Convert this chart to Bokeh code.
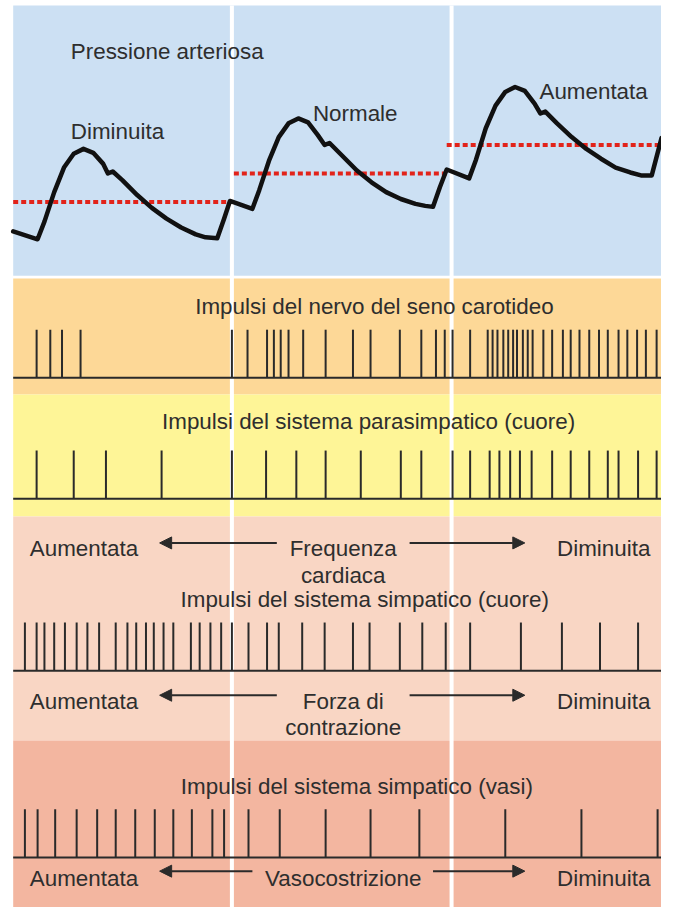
from bokeh.plotting import figure
from bokeh.models import Range1d, Arrow, NormalHead
from bokeh.core.properties import value
from bokeh.embed import file_html
from bokeh.resources import INLINE

# ---------------- data (in picture units) ----------------
# arterial pressure trace: three beats (decreased, normal, increased)
pressure_x = [13, 38, 45, 55, 65, 75, 85, 95, 105, 110, 115, 125, 140, 155, 170, 185, 200, 210, 222, 229, 235,
              258, 265, 275, 285, 295, 305, 315, 325, 332, 337, 350, 365, 380, 395, 410, 425, 435, 443, 450, 457,
              480, 487, 497, 507, 517, 527, 537, 547, 553, 558, 570, 585, 600, 615, 630, 645, 656, 667, 677]
pressure_y = [235, 243, 225, 195, 170, 156, 151, 155, 166, 176, 174, 183, 198, 211, 222, 231, 238, 241, 242, 222, 204,
              212, 193, 163, 139, 125, 120, 124, 137, 147, 145, 158, 173, 185, 195, 202, 207, 209, 210, 190, 172,
              181, 162, 130, 107, 93, 88, 92, 105, 115, 113, 125, 139, 151, 161, 170, 175, 178, 178, 140]
# mean pressure (red dashed) for each beat
mean_x0 = [13, 239, 457]
mean_x1 = [234, 459, 675]
mean_y = [205, 176, 147]

pressure_labels = ["Pressione arteriosa", "Diminuita", "Normale", "Aumentata"]

# impulse trains (spike times)
carotid_spikes = [37, 51, 63, 82, 237, 253, 273, 280, 287, 295, 310, 333, 361, 379, 409, 431, 446, 455, 463,
                  481, 499, 504, 509, 515, 520, 525, 529, 535, 540, 545, 556, 565, 576, 584, 593, 603, 613,
                  622, 633, 642, 652, 661, 672]
parasym_spikes = [37, 75, 108, 165, 237, 272, 303, 333, 369, 410, 431, 463, 481, 501, 511, 522, 532, 544,
                  565, 584, 603, 622, 633, 653, 672]
sym_heart_spikes = [25, 37, 45, 55, 66, 78, 89, 101, 118, 130, 139, 149, 157, 167, 177, 195, 204, 215, 226,
                    237, 254, 273, 285, 309, 332, 361, 378, 409, 432, 456, 481, 533, 575, 614, 653]
sym_vessel_spikes = [25, 38, 56, 78, 99, 118, 138, 158, 177, 196, 217, 229, 254, 286, 333, 379, 429, 517,
                     595, 673]

row_titles = ["Impulsi del nervo del seno carotideo",
              "Impulsi del sistema parasimpatico (cuore)",
              "Impulsi del sistema simpatico (cuore)",
              "Impulsi del sistema simpatico (vasi)"]
effect_names = [["Frequenza", "cardiaca"], ["Forza di", "contrazione"], ["Vasocostrizione"]]
effect_left = "Aumentata"
effect_right = "Diminuita"

# ---------------- figure ----------------
W, H = 677, 923
p = figure(width=661, height=907, output_backend="svg", toolbar_location=None,
           x_range=Range1d(0, W), y_range=Range1d(H, 0), min_border=0)
p.axis.visible = False
p.grid.visible = False
p.outline_line_color = None
p.background_fill_color = "white"

FONT = value("Liberation Sans")
FS = "22.4px"
TXT = "#2e2e2e"
INK = "#2a2a2a"

# background panels
panels = [(5, 280, "#CCE0F3"), (283, 401, "#FDD897"), (401, 525, "#FEF597"),
          (525, 753, "#F9D6C4"), (753, 923, "#F3B6A0")]
p.quad(left=[13] * len(panels), right=[W] * len(panels),
       top=[a for a, b, c in panels], bottom=[b for a, b, c in panels],
       fill_color=[c for a, b, c in panels], line_color=None)

# white separators between the three beats
p.segment(x0=[237, 462], x1=[237, 462], y0=[5, 5], y1=[H, H], line_color="white", line_width=4)

# texts in pressure panel
p.text(x=[72, 72, 320, 552], y=[52, 133, 115, 93], text=pressure_labels,
       text_font=FONT, text_font_size=FS, text_color=TXT, text_baseline="alphabetic", text_align="left")

# mean pressure lines
p.segment(x0=mean_x0, x1=mean_x1, y0=mean_y, y1=mean_y, line_color="#E2231A", line_width=4,
          line_dash="5 3")
# pressure trace
p.line(pressure_x, pressure_y, line_color="#111111", line_width=4.5, line_join="round", line_cap="round")

# impulse rows
rows = [(carotid_spikes, 335, 384, 311, 383),
        (parasym_spikes, 458, 507, 428, 377),
        (sym_heart_spikes, 633, 682, 610, 373),
        (sym_vessel_spikes, 823, 872, 800, 365)]
for (spikes, top, base, ty, tx), title in zip(rows, row_titles):
    p.segment(x0=spikes, x1=spikes, y0=[base] * len(spikes), y1=[top] * len(spikes),
              line_color=INK, line_width=2)
    p.segment(x0=[13], x1=[W], y0=[base], y1=[base], line_color=INK, line_width=2)
    p.text(x=[tx], y=[ty], text=[title], text_font=FONT, text_font_size=FS, text_color=TXT,
           text_baseline="alphabetic", text_align="center")

# effect rows with arrows
effects = [(558, 552, 283, 419), (713, 707, 283, 419), (893, 886, 258, 443)]
for (ty, ay, lx, rx), names in zip(effects, effect_names):
    p.text(x=[30], y=[ty], text=[effect_left], text_font=FONT, text_font_size=FS, text_color=TXT,
           text_baseline="alphabetic", text_align="left")
    p.text(x=[570], y=[ty], text=[effect_right], text_font=FONT, text_font_size=FS, text_color=TXT,
           text_baseline="alphabetic", text_align="left")
    p.text(x=[351] * len(names), y=[ty + 27 * i for i in range(len(names))], text=names,
           text_font=FONT, text_font_size=FS, text_color=TXT, text_baseline="alphabetic", text_align="center")
    for xs, xe in [(lx, 163), (rx, 537)]:
        p.add_layout(Arrow(end=NormalHead(size=12, fill_color=INK, line_color=INK, line_width=1),
                           x_start=xs, y_start=ay, x_end=xe, y_end=ay,
                           line_color=INK, line_width=2))

open("out.html", "w").write(file_html(p, INLINE))
